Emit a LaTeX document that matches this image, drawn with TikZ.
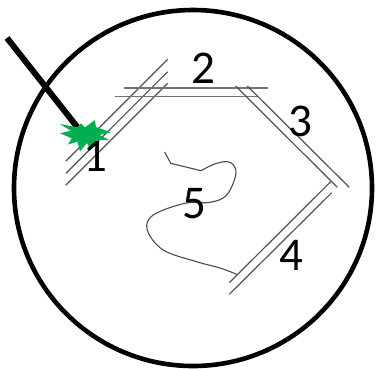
\documentclass[tikz,border=0pt]{standalone}
\usepackage{fontspec}
\setmainfont{Carlito}
\definecolor{burst}{RGB}{0,176,80}
\tikzset{
  wall/.style={draw=black!68,line width=1.2pt},
  wallg/.style={draw=black!55,line width=1.6pt},
  digit/.style={inner sep=0pt,font=\fontsize{47}{47}\selectfont},
}
\begin{document}
\begin{tikzpicture}[x=1pt,y=-1pt]
\useasboundingbox (0,0) rectangle (378,368);
\draw[line width=4.6pt] (193,188) ellipse [x radius=179,y radius=178];
% wall 1
\draw[wall] (65.7,161.3) -- (167.7,59.3);
\draw[wall] (66,173.3) -- (167.7,71.7);
\draw[wall] (65.7,185.3) -- (167.7,83.3);
% wall 2
\draw[wallg] (124,88) -- (268,88);
\draw[wallg] (115.3,96.5) -- (258,96.5);
% wall 3
\draw[wall] (247.3,86) -- (349.3,187.3);
\draw[wall] (235.7,86) -- (337.3,187.3);
% wall 4
\draw[wall] (229.3,282.7) -- (330.7,181.7);
\draw[wall] (229.3,294.3) -- (331.7,192.7);
% curve 5
\draw[draw=black!70,line width=1.1pt] (164.7,152) -- (170.7,163.3) -- (201,170.7);
\draw[draw=black!70,line width=1.1pt,smooth,tension=0.6] plot coordinates {(201,170.7) (216,163.5) (230,162.3) (236,173.3) (226.7,195) (210,202.3) (185,203.3) (153.3,215) (147.3,230) (163.3,250) (196.7,261.7) (220,268) (236.7,274.3)};
% probe
\draw[line width=6pt] (7,38) -- (78,128);
% burst
\fill[burst] (60,124) -- (77.3,127.3) -- (81,123.3) -- (85,127.3) -- (95,120) -- (96,127) -- (111,132.3) -- (99.3,135) -- (109,139.8) -- (96.7,140) -- (90,149) -- (87,143) -- (80,151.5) -- (77.3,141.7) -- (68,144.5) -- (71.7,138.3) -- (60,133.3) -- (70.7,130.7) -- cycle;
\node[digit] (n1) at (95,156.5) {1};
\node[digit] (n2) at (203,68.5) {2};
\node[digit] (n3) at (300,121) {3};
\node[digit] (n4) at (291,255.5) {4};
\node[digit] (n5) at (194,203.5) {5};
\end{tikzpicture}
\end{document}
